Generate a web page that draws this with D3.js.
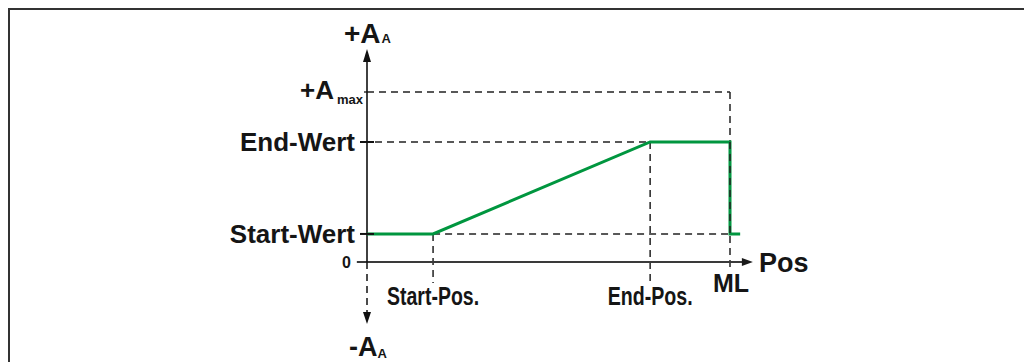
<!DOCTYPE html>
<html><head><meta charset="utf-8">
<script src="https://cdn.jsdelivr.net/npm/d3@7"></script>
<style>
html,body{margin:0;padding:0;background:#fff;}
svg{display:block;}
text{font-family:"Liberation Sans",Arial,sans-serif;font-weight:bold;fill:#151515;}
</style></head>
<body>
<script>
// ---- data ----
const levelNames = ["Start-Wert", "End-Wert"];
const levelValues = [16.5, 70.6];
const amaxValue = 100;
const posNames = ["Start-Pos.", "End-Pos.", "ML"];
const posValues = [18.2, 78, 100];
const profileX = [0, 18.2, 78, 100, 100, 102.8];
const profileY = [16.5, 16.5, 70.6, 70.6, 16.5, 16.5];
const axisXRange = [-2.8, 106.3];
const axisYRange = [-36.5, 125.3];

const W = 1024, H = 362;
const svg = d3.select("body").append("svg").attr("width", W).attr("height", H);

const x = d3.scaleLinear().domain([0, 100]).range([367, 730]);
const y = d3.scaleLinear().domain([0, 100]).range([262, 92]);

// frame
svg.append("path").attr("d", `M9,${H} L9,9 L${W},9`).attr("fill", "none")
  .attr("stroke", "#333").attr("stroke-width", 2);

const dash = "7,5";
const dashCol = "#222";
const sStart = levelValues[0], sEnd = levelValues[1];
const pStart = posValues[0], pEnd = posValues[1], pML = posValues[2];

function dl(x1, y1, x2, y2) {
  svg.append("line").attr("x1", x1).attr("y1", y1).attr("x2", x2).attr("y2", y2)
    .attr("stroke", dashCol).attr("stroke-width", 1.5).attr("stroke-dasharray", dash);
}
// dashed guides
dl(x(0), y(amaxValue), x(pML), y(amaxValue));
dl(x(pML), y(amaxValue), x(pML), y(0) + 6);
dl(x(0) + 8, y(sEnd), x(pEnd), y(sEnd));
dl(x(pEnd), y(sEnd), x(pEnd), y(0) + 21);
dl(x(pStart), y(sStart), x(pML), y(sStart));
dl(x(pStart), y(sStart), x(pStart), y(0) + 21);

// x axis
svg.append("line").attr("x1", x(axisXRange[0])).attr("x2", x(axisXRange[1]) - 9)
  .attr("y1", y(0)).attr("y2", y(0)).attr("stroke", "#3a3a3a").attr("stroke-width", 2);
const xe = x(axisXRange[1]);
svg.append("path").attr("d", `M${xe},${y(0)} L${xe - 11},${y(0) - 4} L${xe - 11},${y(0) + 4} Z`).attr("fill", "#1a1a1a");

// y axis (solid up)
const yt = y(axisYRange[1]);
svg.append("line").attr("x1", x(0)).attr("x2", x(0)).attr("y1", yt + 10).attr("y2", y(0))
  .attr("stroke", "#111").attr("stroke-width", 1.6);
svg.append("path").attr("d", `M${x(0)},${yt} L${x(0) - 4},${yt + 13} L${x(0) + 4},${yt + 13} Z`).attr("fill", "#111");
// y axis dashed down
const yb = y(axisYRange[0]);
svg.append("line").attr("x1", x(0)).attr("x2", x(0)).attr("y1", y(0)).attr("y2", yb - 10)
  .attr("stroke", "#111").attr("stroke-width", 1.5).attr("stroke-dasharray", dash);
svg.append("path").attr("d", `M${x(0)},${yb} L${x(0) - 4},${yb - 12} L${x(0) + 4},${yb - 12} Z`).attr("fill", "#111");

// green profile
const line = d3.line().x(d => x(d[0])).y(d => y(d[1]));
svg.append("path").datum(d3.zip(profileX, profileY)).attr("d", line)
  .attr("fill", "none").attr("stroke", "#00963f").attr("stroke-width", 3);
// dashed over green vertical at ML
dl(x(pML), y(sEnd), x(pML), y(sStart));

// y ticks
levelValues.forEach(v => {
  svg.append("line").attr("x1", x(0) - 7).attr("x2", x(0) + 7).attr("y1", y(v)).attr("y2", y(v))
    .attr("stroke", "#111").attr("stroke-width", 2);
});
svg.append("line").attr("x1", x(0) - 3).attr("x2", x(0)).attr("y1", y(amaxValue)).attr("y2", y(amaxValue))
  .attr("stroke", "#111").attr("stroke-width", 1.3);

// y labels
levelNames.forEach((n, i) => {
  svg.append("text").attr("x", 355).attr("y", y(levelValues[i]) + 9).attr("text-anchor", "end")
    .attr("font-size", 26).text(n);
});
svg.append("text").attr("x", 351).attr("y", y(0) + 6).attr("text-anchor", "end")
  .attr("font-size", 16).text("0");
// +A max
const am = svg.append("text").attr("x", 300).attr("y", y(amaxValue) + 7).attr("font-size", 26);
am.append("tspan").text("+A");
am.append("tspan").attr("font-size", 13).attr("dx", 3).attr("dy", 5).text("max");
// +A_A top
const at = svg.append("text").attr("x", 344).attr("y", 43).attr("font-size", 28);
at.append("tspan").text("+A");
at.append("tspan").attr("font-size", 13).attr("dx", 1).text("A");
// -A_A bottom
const ab = svg.append("text").attr("x", 349).attr("y", 356).attr("font-size", 27);
ab.append("tspan").text("-A");
ab.append("tspan").attr("font-size", 13).attr("dx", 0).attr("dy", 2).text("A");

// x labels
const posW = [92, 85];
posNames.forEach((n, i) => {
  if (i < 2) {
    const g = svg.append("g");
    const t = g.append("text").attr("x", 0).attr("y", 0).attr("text-anchor", "middle")
      .attr("font-size", 26).text(n);
    const natural = t.node().getComputedTextLength() || posW[i];
    const s = posW[i] / natural;
    g.attr("transform", `translate(${x(posValues[i])},305) scale(${s},1)`);
  } else {
    svg.append("text").attr("x", x(posValues[i]) + 1).attr("y", 292).attr("text-anchor", "middle")
      .attr("font-size", 25).text(n);
  }
});
svg.append("text").attr("x", 759).attr("y", 272).attr("font-size", 27).text("Pos");
</script>
</body></html>
